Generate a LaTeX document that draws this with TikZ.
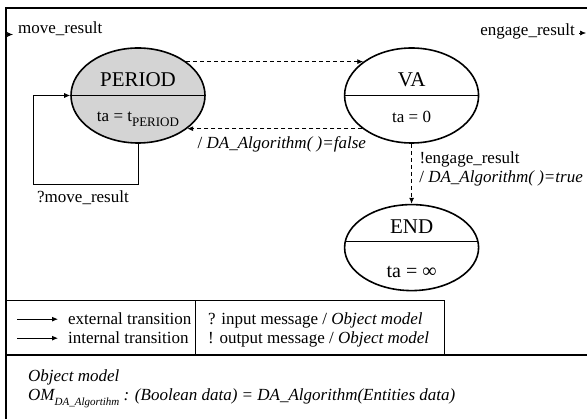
\documentclass[tikz,border=0pt]{standalone}
\usepackage{fontspec}
\setmainfont{Liberation Serif}
\usepackage{tikz}
\usetikzlibrary{positioning,arrows.meta,shapes.geometric,calc}
\def\statewidth{134pt}
\def\stateheight{95pt}
\tikzstyle{outline}=[draw=black,line width=2.2pt]
\tikzstyle{thin}=[draw=black,line width=0.8pt]
\tikzstyle{state}=[ellipse,draw=black,line width=1.6pt,inner sep=0pt,
    minimum width=\statewidth,minimum height=\stateheight]
\tikzstyle{divider}=[draw=black,line width=0.8pt]
\tikzstyle{extern}=[arrows={-Latex[length=6pt,width=5pt]},draw=black,line width=0.8pt]
\tikzstyle{intern}=[style=extern,dash pattern=on 4pt off 3pt]
\tikzstyle{port}=[arrows={-Latex[length=6pt,width=5pt]},draw=black,line width=0.6pt]
\tikzstyle{lbl}=[inner sep=0pt,anchor=base west]
\tikzstyle{statename}=[inner sep=0pt,anchor=base,font=\fontsize{21}{24}\selectfont]
\tikzstyle{tavalue}=[inner sep=0pt,anchor=base]
\colorlet{stategray}{black!17}

\begin{document}
\begin{tikzpicture}[x=1pt,y=-1pt,font=\fontsize{17}{19}\selectfont]
    \useasboundingbox (0,0) rectangle (587,419);
    % frame and legend box
    \draw[outline] (592,8) -- (6.3,8) -- (6.3,425);
    \draw[outline] (6.3,355) -- (592,355);
    \draw[thin] (6.3,300.7) -| (444,355);
    \draw[thin] (195,300.7) -- (195,355);

    % states
    \node[state,fill=stategray] (period) at (138,95.5) {};
    \node[state,right=138pt of period] (va) {};
    \node[state,below=60pt of va,minimum height=86pt] (theend) {};
    \draw[divider] (period.west) -- (period.east);
    \draw[divider] (va.west) -- (va.east);
    \draw[divider] ($(theend.center)+(-66.3,-6)$) -- ++(132.6,0);
    \node[statename] (periodname) at ($(period.center)+(0,-8.5)$) {PERIOD};
    \node[tavalue] (periodta) at ($(period.center)+(0,26.5)$)
        {ta = t\raisebox{-0.28em}{\fontsize{13}{13}\selectfont PERIOD}};
    \node[statename] (vaname) at ($(va.center)+(0,-8.5)$) {VA};
    \node[tavalue] (vata) at ($(va.center)+(0,27)$) {ta = 0};
    \node[statename] (endname) at ($(theend.center)+(0,-14)$) {END};
    \node[tavalue,font=\fontsize{20}{22}\selectfont] (endta) at ($(theend.center)+(0,30)$) {ta = ∞};

    % transitions
    \draw[intern] (period.35) -- (va.145);
    \draw[intern] (va.214) -- (period.-34)
        node[midway,anchor=base,yshift=-20pt,xshift=7pt] (falselbl) {/ \textit{DA\_Algorithm( )=false}};
    \draw[intern] (va.south) -- (theend.north)
        node[pos=0.33,lbl,xshift=7.5pt] (engagelbl) {!engage\_result};
    \node[lbl] (truelbl) at ($(engagelbl.base west)+(0,19)$) {/ \textit{DA\_Algorithm( )=true}};
    \coordinate (loopcorner) at (33.3,184.3);
    \draw[extern] (period.south) |- (loopcorner) |- (period.west);
    \node[lbl] (movelbl) at (37,203) {?move\_result};

    % ports
    \node[lbl] (movein) at (18,34) {move\_result};
    \coordinate (inport) at (7,34.5);
    \draw[port] (inport) -- ++(6,0);
    \node[lbl,anchor=base east] (engageout) at (575,36) {engage\_result};
    \coordinate (outport) at (579,33);
    \draw[port] (outport) -- ++(7,0);

    % legend
    \node[lbl] (extlbl) at (68,325) {external transition};
    \node[lbl] (intlbl) at (68,344) {internal transition};
    \draw[extern] ([xshift=-51pt]extlbl.west) -- ([xshift=-10pt]extlbl.west);
    \draw[extern] ([xshift=-51pt]intlbl.west) -- ([xshift=-10pt]intlbl.west);
    \node[lbl] (inmsg) at (208,325) {? input message / \textit{Object model}};
    \node[lbl] (outmsg) at (208,344) {! output message / \textit{Object model}};

    % object model
    \node[lbl] (omtitle) at (28,382) {\textit{Object model}};
    \node[lbl] (omdef) at (28,401) {\textit{OM\raisebox{-0.25em}{\fontsize{11}{11}\selectfont DA\_Algortihm} : (Boolean data) = DA\_Algorithm(Entities data)}};
\end{tikzpicture}
\end{document}
